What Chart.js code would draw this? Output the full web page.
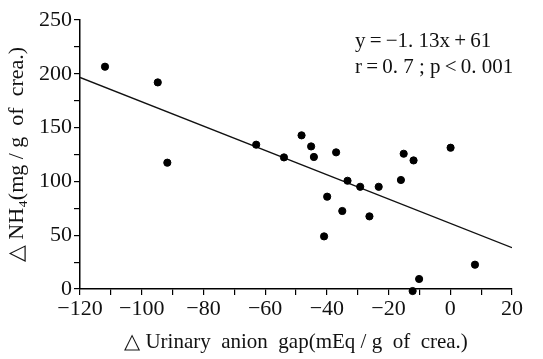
<!DOCTYPE html>
<html>
<head>
<meta charset="utf-8">
<script src="https://cdn.jsdelivr.net/npm/chart.js@4"></script>
<style>
  html, body { margin: 0; padding: 0; background: #fff; }
  #wrap { width: 543px; height: 359px; }
</style>
</head>
<body>
<div id="wrap"><canvas id="grafico" width="543" height="359"></canvas></div>
<script>
// valori
var gapUrinario = [-111.9, -94.8, -91.7, -62.9, -53.9, -48.2, -45.1, -44.2, -37.0, -15.1, -11.9, 0.1,
                   -33.3, -29.2, -23.2, -16.0, -39.9, -35.0, -26.2, -40.9, 8.0, -10.1, -12.2]
var nh4 = [206.6, 192, 117.4, 134.1, 122.3, 142.8, 132.5, 122.7, 127.0, 125.7, 119.5, 131.3,
           100.6, 95, 95, 101.3, 85.8, 72.5, 67.5, 48.9, 22.6, 9.3, -1.9]
var pendenza = -1.13
var intercetta = 61
var estremiRetta = [-120, 20]
var testoEquazione = ['y\u2009=\u2009\u22121. 13x\u2009+\u200961', 'r\u2009=\u20090. 7 ; p\u2009<\u20090. 001']

var punti = gapUrinario.map(function (x, i) { return { x: x, y: nh4[i] } })
var retta = estremiRetta.map(function (x) { return { x: x, y: pendenza * x + intercetta } })

var font = 'Liberation Serif'

var pluginTesto = {
    id: 'testo',
    afterDraw: function (chart) {
        var ctx = chart.ctx
        ctx.save()
        ctx.fillStyle = '#111'
        ctx.font = '21px "' + font + '"'
        ctx.textBaseline = 'middle'
        ctx.fillText(testoEquazione[0], 355, 41)
        ctx.fillText(testoEquazione[1], 355, 67)
        ctx.restore()
    }
}

var myChart = new Chart(document.getElementById('grafico'), {
    type: 'scatter',
    data: {
        datasets: [{
            data: punti,
            backgroundColor: '#000',
            borderColor: '#000',
            pointRadius: 3.6,
            clip: false
        }, {
            type: 'line',
            data: retta,
            borderColor: '#111',
            borderWidth: 1.3,
            pointRadius: 0,
            fill: false
        }]
    },
    options: {
        responsive: false,
        animation: false,
        layout: { padding: { top: 20, right: 31, left: 0, bottom: 0 } },
        scales: {
            x: {
                type: 'linear',
                min: -120,
                max: 20,
                afterFit: function (s) { s.height = 70 },
                border: { display: true, color: '#000', width: 1.5 },
                grid: { display: true, drawOnChartArea: false, drawTicks: true, tickLength: 6, color: '#000', lineWidth: 1.2 },
                ticks: {
                    stepSize: 10,
                    autoSkip: false,
                    maxRotation: 0,
                    minRotation: 0,
                    padding: 1,
                    color: '#111',
                    font: { family: font, size: 22 },
                    callback: function (v) {
                        if (v % 20 !== 0) return ''
                        return v < 0 ? '\u2212' + Math.abs(v) : '' + v
                    }
                },
                title: {
                    display: true,
                    text: '\u25B3 Urinary  anion  gap(mEq / g  of  crea.)',
                    color: '#111',
                    font: { family: font, size: 21 },
                    padding: { top: 2 }
                }
            },
            y: {
                type: 'linear',
                min: 0,
                max: 250,
                afterFit: function (s) { s.width = 80 },
                border: { display: true, color: '#000', width: 1.5 },
                grid: { display: true, drawOnChartArea: false, drawTicks: true, tickLength: 6, color: '#000', lineWidth: 1.2 },
                ticks: {
                    stepSize: 25,
                    autoSkip: false,
                    padding: 2,
                    color: '#111',
                    font: { family: font, size: 22 },
                    callback: function (v) { return v % 50 === 0 ? '' + v : '' }
                },
                title: {
                    display: true,
                    text: '\u25B3 NH\u2084(mg / g  of  crea.)',
                    color: '#111',
                    font: { family: font, size: 22 },
                    padding: { bottom: 0 }
                }
            }
        },
        plugins: {
            legend: { display: false },
            tooltip: { enabled: false }
        }
    },
    plugins: [pluginTesto]
})
</script>
</body>
</html>
